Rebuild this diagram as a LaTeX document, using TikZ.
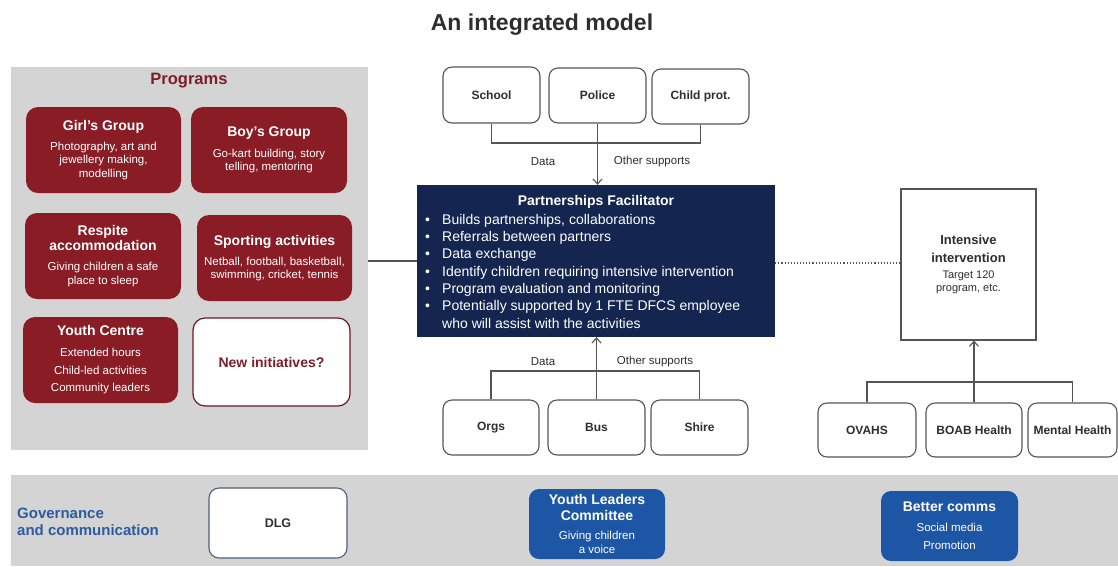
\documentclass[tikz,border=0pt]{standalone}
\usepackage{fontspec}
\setmainfont{Liberation Sans}
\usetikzlibrary{arrows.meta}

\definecolor{progred}{HTML}{8A1C26}
\definecolor{progtxt}{HTML}{7D1E28}
\definecolor{pfnavy}{HTML}{14254F}
\definecolor{govblue}{HTML}{1E56A6}
\definecolor{govtxt}{HTML}{2C5C9F}
\definecolor{panelgrey}{HTML}{D4D4D4}
\definecolor{linegrey}{HTML}{555555}
\definecolor{textgrey}{HTML}{2E2E2E}
\definecolor{dlgborder}{HTML}{4D5F7F}

% heading and body fonts used inside the boxes
\newcommand\bxhead{\bfseries\fontsize{14}{16}\selectfont}
\newcommand\bxbody{\fontsize{11.5}{13.3}\selectfont}

\begin{document}
\begin{tikzpicture}[x=1pt,y=-1pt,
  panel/.style={fill=panelgrey, draw=none, inner sep=0pt},
  redbox/.style={fill=progred, rounded corners=12pt, text=white, align=center,
    inner sep=0pt, font=\bxbody},
  partner/.style={draw=linegrey, line width=1.1pt, fill=white, rounded corners=9pt,
    text=textgrey, inner sep=0pt, font=\bfseries\fontsize{12}{14}\selectfont},
  bluebox/.style={fill=govblue, rounded corners=10pt, text=white, align=center,
    inner sep=0pt, font=\fontsize{11.5}{14}\selectfont},
  connector/.style={draw=linegrey, line width=1.1pt},
  arrowline/.style={connector, -{Straight Barb[length=5pt,width=9pt]}},
  flowlabel/.style={text=textgrey, inner sep=0pt, font=\fontsize{11.5}{13}\selectfont}
]
\useasboundingbox[fill=white] (0,0) rectangle (1118,566);

% title
\node[anchor=base, inner sep=0pt, text=textgrey, font=\bfseries\fontsize{23}{26}\selectfont]
  (title) at (542,30) {An integrated model};

% ---------- Programs panel ----------
\node[panel, minimum width=357pt, minimum height=383pt] (prog) at (189.5,258.5) {};
\node[text=progtxt, inner sep=0pt, font=\bfseries\fontsize{16.5}{18}\selectfont]
  (progtitle) at (189,81) {Programs};

\node[redbox, minimum width=155pt, minimum height=86pt] (girls) at (103.5,150)
  {{\bxhead Girl's Group}\\[6.7pt]Photography, art and\\jewellery making,\\modelling};
\node[redbox, minimum width=156pt, minimum height=86pt] (boys) at (269,150)
  {{\bxhead Boy's Group}\\[7pt]Go-kart building, story\\telling, mentoring};
\node[redbox, minimum width=156pt, minimum height=86pt] (respite) at (103,256)
  {{\bxhead Respite}\\[2.2pt]{\bxhead accommodation}\\[6.7pt]Giving children a safe\\place to sleep};
\node[redbox, minimum width=155pt, minimum height=86pt] (sport) at (274.5,258)
  {{\bxhead Sporting activities}\\[6.7pt]Netball, football, basketball,\\swimming, cricket, tennis};
\node[redbox, minimum width=155pt, minimum height=86pt] (youth) at (100.5,360)
  {{\bxhead Youth Centre}\\[7.7pt]Extended hours\\[4.2pt]Child-led activities\\[4.2pt]Community leaders};
\node[redbox, fill=white, draw=progred!80!black, line width=1.2pt, text=progtxt,
  minimum width=157pt, minimum height=88pt] (newinit) at (271.5,362)
  {\bxhead New initiatives?};

% ---------- Partnerships Facilitator ----------
\node[fill=pfnavy, inner sep=0pt, minimum width=358pt, minimum height=152pt] (pf) at (596,261) {};
\node[text=white, inner sep=0pt, font=\bfseries\fontsize{14}{16}\selectfont]
  (pftitle) at (596,202) {Partnerships Facilitator};
\node[text=white, inner sep=0pt, anchor=north west, align=left,
  font=\fontsize{14}{17.3}\selectfont] (pfbullets) at (425,214)
  {\makebox[17pt][l]{\textbullet}Builds partnerships, collaborations\\
   \makebox[17pt][l]{\textbullet}Referrals between partners\\
   \makebox[17pt][l]{\textbullet}Data exchange\\
   \makebox[17pt][l]{\textbullet}Identify children requiring intensive intervention\\
   \makebox[17pt][l]{\textbullet}Program evaluation and monitoring\\
   \makebox[17pt][l]{\textbullet}Potentially supported by 1 FTE DFCS employee\\
   \hspace*{17pt}who will assist with the activities};

% partners above
\node[partner, minimum width=97pt, minimum height=56pt] (school) at (491.5,95) {School};
\node[partner, minimum width=97pt, minimum height=55pt] (police) at (597.5,95.5) {Police};
\node[partner, minimum width=97pt, minimum height=55pt] (childprot) at (700.5,96.5) {Child prot.};

\coordinate (topjoin) at (598,143);
\draw[connector] (school.south) |- (topjoin) -| (childprot.south);
\draw[arrowline] (police.south) -- (police.south |- pf.north);
\node[flowlabel] (data1) at (543,162) {Data};
\node[flowlabel] (other1) at (652,162) {Other supports};

% partners below
\node[partner, minimum width=96pt, minimum height=55pt] (orgs) at (491,427.5) {Orgs};
\node[partner, minimum width=97pt, minimum height=55pt] (bus) at (596.5,427.5) {Bus};
\node[partner, minimum width=97pt, minimum height=55pt] (shire) at (699.5,427.5) {Shire};

\coordinate (botjoin) at (596.5,371);
\draw[connector] (orgs.north) |- (botjoin) -| (shire.north);
\draw[arrowline] (bus.north) -- (bus.north |- pf.south);
\node[flowlabel] (data2) at (543,362) {Data};
\node[flowlabel] (other2) at (655,362) {Other supports};

% link from programs
\draw[connector] (prog.east |- pf.west) -- (pf.west);

% ---------- Intensive intervention ----------
\node[draw=linegrey, line width=1.1pt, fill=white, inner sep=0pt, align=center,
  text=textgrey, minimum width=135pt, minimum height=151pt,
  font=\fontsize{11}{13}\selectfont] (intensive) at (968.5,264.5)
  {{\bfseries\fontsize{13}{15}\selectfont Intensive}\\[5pt]
   {\bfseries\fontsize{13}{15}\selectfont intervention}\\[3pt]
   Target 120\\program, etc.};
\coordinate (dotend) at (intensive.west |- 0,263);
\draw[connector, dotted, line width=1.2pt] (pf.east |- dotend) -- (dotend);

\node[partner, minimum width=98pt, minimum height=54pt] (ovahs) at (867,430) {OVAHS};
\node[partner, minimum width=96pt, minimum height=54pt] (boab) at (974,430) {BOAB Health};
\node[partner, minimum width=89pt, minimum height=54pt] (mental) at (1072.5,430) {Mental Health};

\coordinate (rightjoin) at (974,382);
\draw[connector] (ovahs.north) |- (rightjoin) -| (mental.north);
\draw[arrowline] (boab.north) -- (boab.north |- intensive.south);

% ---------- Governance band ----------
\node[panel, minimum width=1107pt, minimum height=91pt] (band) at (564.5,520.5) {};
\node[anchor=west, align=left, inner sep=0pt, text=govtxt,
  font=\bfseries\fontsize{15}{17}\selectfont] (govtext) at (17,521.5)
  {Governance\\and communication};
\node[draw=dlgborder, line width=1.1pt, fill=white, rounded corners=10pt, inner sep=0pt,
  text=textgrey, font=\bfseries\fontsize{12.5}{14}\selectfont,
  minimum width=138pt, minimum height=70pt] (dlg) at (278,523) {DLG};
\node[bluebox, minimum width=136pt, minimum height=70pt] (ylc) at (597,524)
  {{\bxhead Youth Leaders}\\[2pt]{\bxhead Committee}\\[5pt]Giving children\\a voice};
\node[bluebox, minimum width=137pt, minimum height=70pt] (comms) at (949.5,526)
  {{\bxhead Better comms}\\[6pt]Social media\\[4pt]Promotion};

\end{tikzpicture}
\end{document}
